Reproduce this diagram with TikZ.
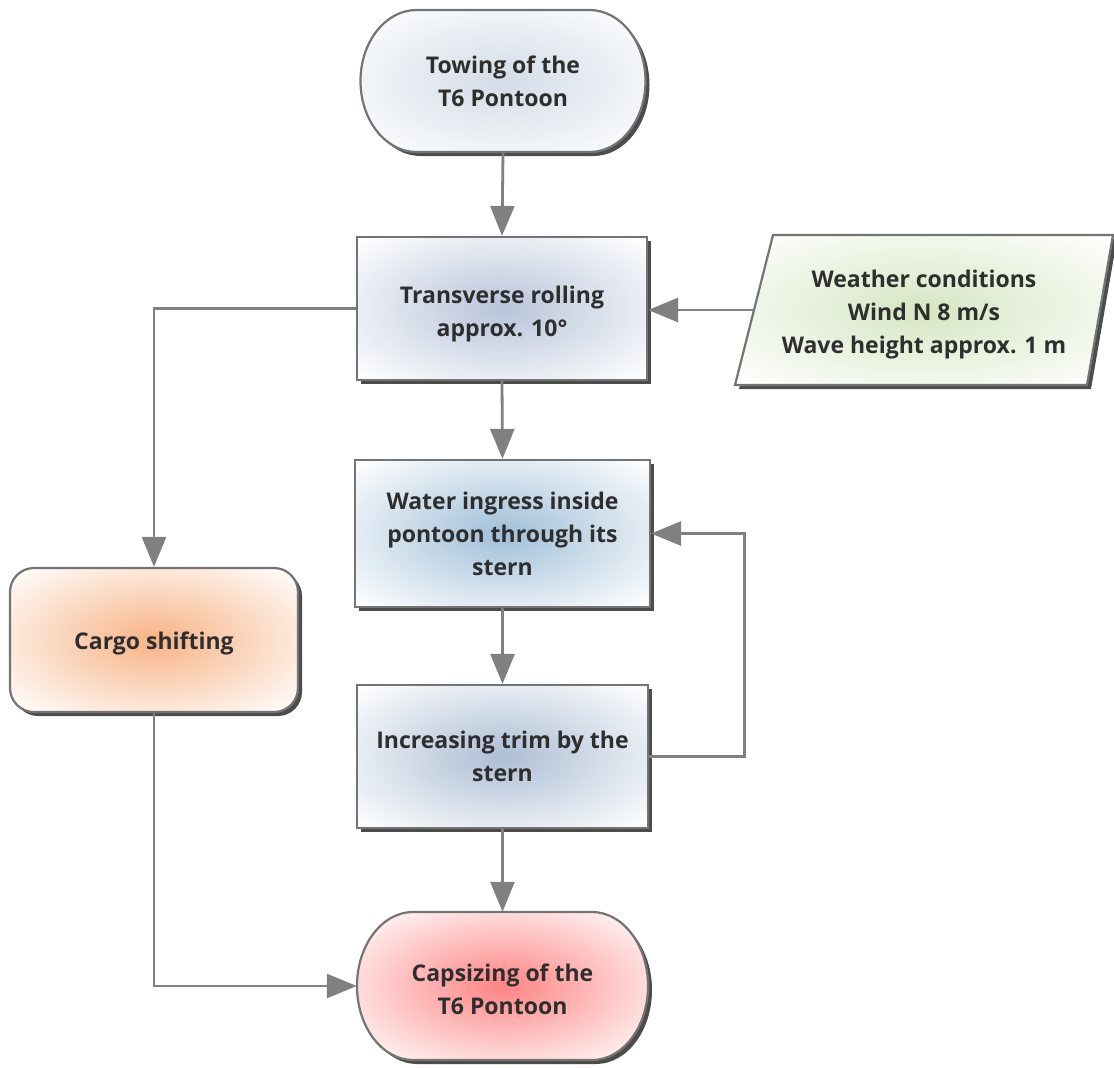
\documentclass[tikz,border=0pt]{standalone}
\usepackage{fontspec}
\setmainfont{Open Sans}
\usetikzlibrary{arrows.meta,shadows}
\definecolor{txt}{HTML}{2E2E2E}
\definecolor{edge}{HTML}{747474}
\definecolor{conncol}{HTML}{808080}
\definecolor{cTop}{HTML}{D3DCE7}
\definecolor{cB1}{HTML}{B8C4D9}
\definecolor{cB2}{HTML}{A0BFD8}
\definecolor{cB3}{HTML}{ADBED4}
\definecolor{cCargo}{HTML}{F7B385}
\definecolor{cCaps}{HTML}{FF8484}
\definecolor{cWx}{HTML}{D6E6C3}
\pgfdeclareradialshading{rTop}{\pgfpointorigin}{color(0bp)=(cTop); color(35bp)=(white); color(50bp)=(white)}
\pgfdeclareradialshading{rB1}{\pgfpointorigin}{color(0bp)=(cB1); color(35bp)=(white); color(50bp)=(white)}
\pgfdeclareradialshading{rB2}{\pgfpointorigin}{color(0bp)=(cB2); color(35bp)=(white); color(50bp)=(white)}
\pgfdeclareradialshading{rB3}{\pgfpointorigin}{color(0bp)=(cB3); color(35bp)=(white); color(50bp)=(white)}
\pgfdeclareradialshading{rCargo}{\pgfpointorigin}{color(0bp)=(cCargo); color(35bp)=(white); color(50bp)=(white)}
\pgfdeclareradialshading{rCaps}{\pgfpointorigin}{color(0bp)=(cCaps); color(35bp)=(white); color(50bp)=(white)}
\pgfdeclareradialshading{rWx}{\pgfpointorigin}{color(0bp)=(cWx); color(35bp)=(white); color(50bp)=(white)}
\tikzset{
  shadowed/.style={drop shadow={shadow xshift=4pt, shadow yshift=-4pt, opacity=0.7, fill=black}},
  lbl/.style={text=txt, align=center, font=\fontsize{23}{33}\selectfont\bfseries},
  outline/.style={draw=edge, line width=2.2pt, shadowed},
  base/.style={outline, lbl},
  procbox/.style={base, rectangle},
  cargobox/.style={base, rectangle, rounded corners=24pt},
  anchorbox/.style={lbl, rectangle, inner sep=0pt},
  conn/.style={draw=conncol, line width=2.8pt, -{Triangle[length=30pt,width=24pt]}},
}
\begin{document}
\begin{tikzpicture}[x=1pt,y=-1pt]
\useasboundingbox (0,0) rectangle (1114,1068);

% terminal shapes (elliptical ends)
\path[outline, shading=rTop]
  (416.5,10) -- (589.5,10) arc[start angle=-90, end angle=90, x radius=56, y radius=71]
  -- (416.5,152) arc[start angle=90, end angle=270, x radius=56, y radius=71] -- cycle;
\node[anchorbox, minimum width=285pt, minimum height=142pt] (t1) at (503,81) {Towing of the\\T6 Pontoon};

\path[outline, shading=rCaps]
  (413,912) -- (592,912) arc[start angle=-90, end angle=90, x radius=56, y radius=74]
  -- (413,1060) arc[start angle=90, end angle=270, x radius=56, y radius=74] -- cycle;
\node[anchorbox, minimum width=291pt, minimum height=148pt] (t2) at (502.5,986) {};
\node[lbl] (t2t) at (502.5,989) {Capsizing of the\\T6 Pontoon};

\node[procbox, shading=rB1, minimum width=290pt, minimum height=143pt] (b1) at (502,308.5) {};
\node[lbl] (b1t) at (502,314) {Transverse rolling\\approx. 10°};
\node[procbox, shading=rB2, minimum width=295pt, minimum height=147pt] (b2) at (502.5,533.5) {Water ingress inside\\pontoon through its\\stern};
\node[procbox, shading=rB3, minimum width=291pt, minimum height=143pt] (b3) at (502.5,756.5) {Increasing trim by the\\stern};
\node[cargobox, shading=rCargo, minimum width=288pt, minimum height=144pt] (cg) at (154,640) {};
\node[lbl] (cgt) at (154,643) {Cargo shifting};

% parallelogram data node
\path[outline, shading=rWx]
  (773,235) -- (1113,235) -- (1087,385) -- (735,385) -- cycle;
\coordinate (wxl) at (753.5,310);
\node[lbl] (wx) at (924,315)
  {Weather conditions\\Wind N 8 m/s\\Wave height approx. 1 m};

% connectors
\draw[conn] (t1.south) -- (b1.north);
\draw[conn] (wxl) -- (wxl -| b1.east);
\draw[conn] (b1.south) -- (b2.north);
\draw[conn] (b2.south) -- (b3.north);
\draw[conn] (b3.south) -- (t2.north);
\draw[conn] (b3.east) -- ++(95,0) |- (b2.east);
\draw[conn] (b1.west) -| (cg.north);
\draw[conn] (cg.south) |- (t2.west);
\end{tikzpicture}
\end{document}
